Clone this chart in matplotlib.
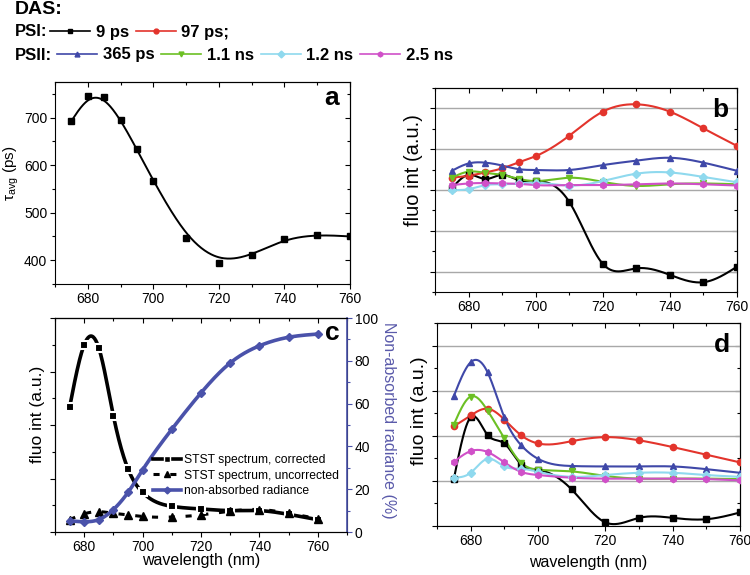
import numpy as np
import matplotlib
matplotlib.use('Agg')
from matplotlib import pyplot as plt
from matplotlib.lines import Line2D
from matplotlib.ticker import MultipleLocator, NullFormatter

plt.rcParams['font.family'] = ['Liberation Sans', 'DejaVu Sans']

# wavelengths of the measured points (nm)
wl = [675, 680, 685, 690, 695, 700, 710, 720, 730, 740, 750, 760]

# panel a: average lifetime
tau_avg = [693, 745, 743, 696, 633, 567, 447, 395, 410, 445, 454, 450]

# panel b: DAS (a.u.)
b_9ps = [0.04, 0.37, 0.27, 0.37, 0.24, 0.22, -0.29, -1.81, -1.92, -2.08, -2.26, -1.88]
b_97ps = [0.30, 0.35, 0.43, 0.53, 0.68, 0.83, 1.33, 1.92, 2.10, 1.92, 1.51, 1.08]
b_365ps = [0.47, 0.65, 0.67, 0.60, 0.51, 0.49, 0.49, 0.61, 0.72, 0.79, 0.67, 0.47]
b_11ns = [0.30, 0.45, 0.42, 0.37, 0.27, 0.22, 0.30, 0.20, 0.10, 0.14, 0.16, 0.14]
b_12ns = [0.00, 0.02, 0.12, 0.14, 0.16, 0.18, 0.11, 0.22, 0.40, 0.43, 0.32, 0.19]
b_25ns = [0.12, 0.16, 0.17, 0.16, 0.15, 0.12, 0.12, 0.12, 0.14, 0.16, 0.14, 0.11]

# panel d: DAS (a.u.)
d_9ps = [0.04, 1.41, 1.02, 0.83, 0.36, 0.24, -0.19, -0.92, -0.82, -0.82, -0.85, -0.70]
d_97ps = [1.21, 1.45, 1.60, 1.36, 1.01, 0.83, 0.88, 0.97, 0.90, 0.75, 0.58, 0.41]
d_365ps = [1.88, 2.63, 2.41, 1.41, 0.79, 0.49, 0.33, 0.32, 0.32, 0.32, 0.26, 0.18]
d_11ns = [1.25, 1.87, 1.56, 0.94, 0.40, 0.25, 0.21, 0.11, 0.05, 0.05, 0.05, 0.04]
d_12ns = [0.07, 0.18, 0.49, 0.32, 0.27, 0.20, 0.09, 0.13, 0.18, 0.18, 0.13, 0.09]
d_25ns = [0.42, 0.66, 0.64, 0.41, 0.20, 0.13, 0.07, 0.05, 0.05, 0.05, 0.04, 0.01]

# panel c: steady state spectra (a.u.) and non-absorbed radiance (%)
stst_corr = [2.33, 3.50, 3.44, 2.17, 1.18, 0.74, 0.48, 0.43, 0.40, 0.40, 0.33, 0.23]
stst_uncorr = [0.23, 0.34, 0.38, 0.35, 0.32, 0.29, 0.28, 0.32, 0.39, 0.42, 0.35, 0.25]
radiance = [5.2, 4.8, 5.8, 10.5, 18.5, 29.0, 48.0, 65.0, 79.0, 87.0, 91.0, 92.5]

das_labels = ['9 ps', '97 ps;', '365 ps', '1.1 ns', '1.2 ns', '2.5 ns']
das_colors = ['#000000', '#e3342c', '#3f48a8', '#6cc024', '#8fd9ee', '#d050c8']
das_markers = ['s', 'o', '^', 'v', 'D', 'h']
c_labels = ['STST spectrum, corrected', 'STST spectrum, uncorrected', 'non-absorbed radiance']
rad_color = '#4a52aa'

W, H = 750, 575


def spline(x, y, num=400):
    """natural cubic spline through the points"""
    x = np.asarray(x, float)
    y = np.asarray(y, float)
    n = len(x)
    h = np.diff(x)
    A = np.zeros((n, n))
    r = np.zeros(n)
    A[0, 0] = A[-1, -1] = 1
    for i in range(1, n - 1):
        A[i, i - 1] = h[i - 1]
        A[i, i] = 2 * (h[i - 1] + h[i])
        A[i, i + 1] = h[i]
        r[i] = 3 * ((y[i + 1] - y[i]) / h[i] - (y[i] - y[i - 1]) / h[i - 1])
    c = np.linalg.solve(A, r)
    b = (y[1:] - y[:-1]) / h - h * (2 * c[:-1] + c[1:]) / 3
    d = (c[1:] - c[:-1]) / (3 * h)
    xs = np.linspace(x[0], x[-1], num)
    idx = np.clip(np.searchsorted(x, xs) - 1, 0, n - 2)
    dx = xs - x[idx]
    return xs, y[idx] + b[idx] * dx + c[idx] * dx ** 2 + d[idx] * dx ** 3


def bspline(x, y, steps=40):
    """clamped cubic B-spline using the points as control points"""
    P = np.column_stack([x, y]).astype(float)
    P = np.vstack([P[0], P[0], P, P[-1], P[-1]])
    t = np.linspace(0, 1, steps)[:, None]
    b0 = (1 - t) ** 3 / 6
    b1 = (3 * t ** 3 - 6 * t ** 2 + 4) / 6
    b2 = (-3 * t ** 3 + 3 * t ** 2 + 3 * t + 1) / 6
    b3 = t ** 3 / 6
    segs = [b0 * P[i] + b1 * P[i + 1] + b2 * P[i + 2] + b3 * P[i + 3] for i in range(len(P) - 3)]
    pts = np.vstack(segs)
    return pts[:, 0], pts[:, 1]


def px_axes(left, top, right, bottom):
    return fig.add_axes([left / W, 1 - bottom / H, (right - left) / W, (bottom - top) / H])


def ticks(ax, xmaj, xmin, ymaj, ymin, top=True, right=True):
    ax.xaxis.set_major_locator(MultipleLocator(xmaj))
    ax.xaxis.set_minor_locator(MultipleLocator(xmin))
    ax.yaxis.set_major_locator(MultipleLocator(ymaj))
    ax.yaxis.set_minor_locator(MultipleLocator(ymin))
    ax.tick_params(which='both', direction='out', width=0.8, labelsize=10, pad=2)
    ax.tick_params(which='major', length=3.5)
    ax.tick_params(which='minor', length=2)
    for s in ax.spines.values():
        s.set_linewidth(0.8)
    if top:
        sx = ax.secondary_xaxis('top')
        sx.xaxis.set_major_locator(MultipleLocator(xmaj))
        sx.xaxis.set_minor_locator(MultipleLocator(xmin))
        sx.tick_params(which='both', direction='in', labeltop=False, width=0.8)
        sx.tick_params(which='major', length=3.5)
        sx.tick_params(which='minor', length=2)
    if right:
        sy = ax.secondary_yaxis('right')
        sy.yaxis.set_major_locator(MultipleLocator(ymaj))
        sy.yaxis.set_minor_locator(MultipleLocator(ymin))
        sy.tick_params(which='both', direction='in', labelright=False, width=0.8)
        sy.tick_params(which='major', length=3.5)
        sy.tick_params(which='minor', length=2)


def das_panel(ax, series):
    for vals, col, mk in zip(series, das_colors, das_markers):
        xs, ys = spline(wl, vals)
        ax.plot(xs, ys, color=col, lw=1.5, zorder=3)
        ax.plot(wl, vals, ls='none', marker=mk, ms=4.5, color=col, zorder=4)
    ax.grid(axis='y', which='major', color='#a8a8a8', lw=1)
    ax.set_axisbelow(True)
    ax.yaxis.set_major_formatter(NullFormatter())
    ax.set_xlim(670, 760)


fig = plt.figure(figsize=(7.5, 5.75), dpi=100)

# panel a
ax_a = px_axes(55, 82, 350, 284)
xs, ys = bspline(wl, tau_avg)
ax_a.plot(xs, ys, color='black', lw=1.4)
ax_a.plot(wl, tau_avg, ls='none', marker='s', ms=5, color='black')
ax_a.set_xlim(670, 760)
ax_a.set_ylim(350, 775)
ticks(ax_a, 20, 10, 100, 50)
ax_a.set_ylabel(r'$\mathregular{\tau_{avg}}$ (ps)', fontsize=11)
ax_a.yaxis.set_label_coords(-0.115, 0.55)
ax_a.text(0.963, 0.886, 'a', transform=ax_a.transAxes, ha='right', va='baseline',
          fontsize=19, fontweight='bold')

# panel b
ax_b = px_axes(435, 88, 737, 292)
das_panel(ax_b, [b_9ps, b_97ps, b_365ps, b_11ns, b_12ns, b_25ns])
ax_b.set_ylim(-2.5, 2.5)
ticks(ax_b, 20, 10, 1, 0.5)
ax_b.set_ylabel('fluo int (a.u.)', fontsize=14.5)
ax_b.yaxis.set_label_coords(-0.04, 0.6)
ax_b.text(0.970, 0.858, 'b', transform=ax_b.transAxes, ha='right', va='baseline',
          fontsize=19, fontweight='bold')

# panel d
ax_d = px_axes(437, 323, 740, 526)
das_panel(ax_d, [d_9ps, d_97ps, d_365ps, d_11ns, d_12ns, d_25ns])
ax_d.set_ylim(-1, 3.5)
ticks(ax_d, 20, 10, 1, 0.5)
ax_d.set_ylabel('fluo int (a.u.)', fontsize=14)
ax_d.yaxis.set_label_coords(-0.03, 0.57)
ax_d.set_xlabel('wavelength (nm)', fontsize=11.5)
ax_d.xaxis.set_label_coords(0.5, -0.145)
ax_d.text(0.967, 0.857, 'd', transform=ax_d.transAxes, ha='right', va='baseline',
          fontsize=19, fontweight='bold')

# panel c
ax_c = px_axes(55, 318, 347, 532)
xs, ys = spline(wl, stst_corr)
ax_c.plot(xs, ys, color='black', lw=2.6, zorder=3)
ax_c.plot(wl, stst_corr, ls='none', marker='s', ms=5.5, mfc='black', mec='white', mew=1.5, zorder=4)
xs, ys = spline(wl, stst_uncorr)
ax_c.plot(xs, ys, color='black', lw=2.2, ls=(0, (2, 3.5)), zorder=3)
ax_c.plot(wl, stst_uncorr, ls='none', marker='^', ms=5.5, color='black', zorder=4)
ax_c.set_xlim(670, 770)
ax_c.set_ylim(0, 4)
ticks(ax_c, 20, 10, 1, 0.5, right=False)
ax_c.yaxis.set_major_formatter(NullFormatter())
ax_c.set_ylabel('fluo int (a.u.)', fontsize=12.5)
ax_c.yaxis.set_label_coords(-0.034, 0.55)
ax_c.set_xlabel('wavelength (nm)', fontsize=11.5)
ax_c.xaxis.set_label_coords(0.5, -0.1)

ax_c2 = ax_c.twinx()
xs, ys = spline(wl, radiance)
ax_c2.plot(xs, ys, color=rad_color, lw=2.6, zorder=3)
ax_c2.plot(wl, radiance, ls='none', marker='D', ms=4, color=rad_color, zorder=4)
ax_c2.set_ylim(0, 100)
ax_c2.yaxis.set_major_locator(MultipleLocator(20))
ax_c2.yaxis.set_minor_locator(MultipleLocator(10))
ax_c2.tick_params(which='both', direction='out', color=rad_color, width=0.8, labelsize=10, pad=2)
ax_c2.tick_params(which='major', length=3.5)
ax_c2.tick_params(which='minor', length=2)
ax_c2.spines['right'].set_color(rad_color)
ax_c2.spines['right'].set_linewidth(1.2)
ax_c2.set_ylabel('Non-absorbed radiance (%)', fontsize=11.5, color='#5a5aaa',
                 rotation=270, va='bottom')
ax_c2.yaxis.set_label_coords(1.116, 0.52)
ax_c2.text(0.976, 0.897, 'c', transform=ax_c2.transAxes, ha='right', va='baseline',
           fontsize=19, fontweight='bold')

c_handles = [
    Line2D([], [], color='black', lw=2.6, marker='s', ms=4.5, mec='white', mew=1),
    Line2D([], [], color='black', lw=2.2, ls=(0, (2, 3.5)), marker='^', ms=5),
    Line2D([], [], color=rad_color, lw=2.6, marker='D', ms=3.5),
]
ax_c2.legend(c_handles, c_labels, loc='upper left', bbox_to_anchor=(0.335, 0.365),
             frameon=False, borderpad=0, borderaxespad=0, handlelength=2.3,
             handletextpad=0.25, labelspacing=0.3, fontsize=8.7)

# DAS legend on top
handles = [Line2D([], [], color=c, marker=m, ms=3.5, lw=1.2) for c, m in zip(das_colors, das_markers)]
bold = {'weight': 'bold', 'size': 12}
fig.text(15 / W, 1 - 9 / H, 'DAS:', fontsize=14, fontweight='bold', va='center')
fig.text(15 / W, 1 - 32 / H, 'PSI:', fontsize=12, fontweight='bold', va='center')
fig.text(15 / W, 1 - 55 / H, 'PSII:', fontsize=12, fontweight='bold', va='center')
fig.legend(handles[:2], das_labels[:2], loc='center left', bbox_to_anchor=(50 / W, 1 - 32 / H),
           ncol=2, frameon=False, prop=bold, borderpad=0, borderaxespad=0,
           handlelength=2.4, handletextpad=0.35, columnspacing=0.4)
fig.legend(handles[2:], das_labels[2:], loc='center left', bbox_to_anchor=(57 / W, 1 - 55 / H),
           ncol=4, frameon=False, prop=bold, borderpad=0, borderaxespad=0,
           handlelength=2.4, handletextpad=0.35, columnspacing=0.4)

fig.savefig('out.png', dpi=100)
